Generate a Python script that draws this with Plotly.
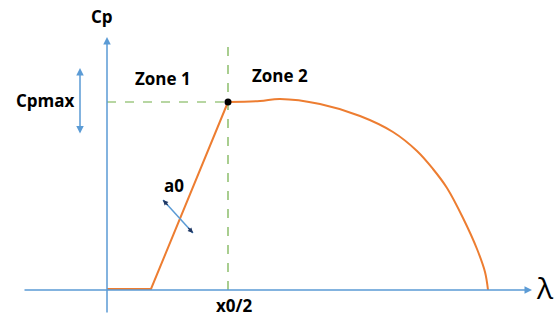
import plotly.graph_objects as go

# Power coefficient curve Cp(λ), arbitrary units
zone1_lambda = [0.0, 4.4, 12.1]
zone1_cp = [0.1, 0.1, 18.8]

zone2_lambda = [12.1, 15.3, 17.3, 21.3, 25.3, 28.6, 31.0, 32.6, 34.0, 35.6, 37.0, 37.8, 38.1]
zone2_cp = [18.8, 18.9, 19.1, 18.6, 17.4, 15.8, 13.9, 12.1, 10.2, 7.2, 4.1, 1.8, 0.0]

# Characteristic point (x0/2, Cpmax)
knee_lambda = 12.1
cp_max = 18.8

ORANGE = "#ed7d31"
BLUE = "#5b9bd5"
GREEN = "#70ad47"
NAVY = "#1f3864"
FONT = "Open Sans"

fig = go.Figure()

fig.add_trace(go.Scatter(x=zone1_lambda, y=zone1_cp, mode="lines",
                         line=dict(color=ORANGE, width=2), hoverinfo="skip"))
fig.add_trace(go.Scatter(x=zone2_lambda, y=zone2_cp, mode="lines",
                         line=dict(color=ORANGE, width=2, shape="spline", smoothing=1.0),
                         hoverinfo="skip"))

shapes = [
    # guide lines to the knee point
    dict(type="line", x0=knee_lambda, x1=knee_lambda, y0=0, y1=25.2,
         line=dict(color=GREEN, width=1.2, dash="dash"), layer="below"),
    dict(type="line", x0=0, x1=knee_lambda, y0=cp_max, y1=cp_max,
         line=dict(color=GREEN, width=1.2, dash="dash"), layer="below"),
    # slope indicator across the rising branch
    dict(type="line", x0=5.6, y0=9.0, x1=8.6, y1=5.7,
         line=dict(color=BLUE, width=1.5)),
]

annotations = []

def arrow(x, y, ax, ay, color=BLUE, width=1.5, head=2, size=1.0, side="end"):
    annotations.append(dict(x=x, y=y, ax=ax, ay=ay, xref="x", yref="y",
                            axref="x", ayref="y", text="", showarrow=True,
                            arrowhead=head, arrowsize=size, arrowwidth=width,
                            arrowcolor=color, arrowside=side, standoff=0,
                            startstandoff=0))

# coordinate axes
arrow(42.5, 0, -8.4, 0)
arrow(0, 25.3, 0, -2.4)
# Cpmax range marker
arrow(-2.7, 22.2, -2.7, 15.5, side="end+start")
# slope arrowheads
arrow(5.6, 9.0, 6.2, 8.35, color=NAVY, width=1.3, size=0.8)
arrow(8.6, 5.7, 8.0, 6.35, color=NAVY, width=1.3, size=0.8)

def label(x, y, text, size=17, weight="bold"):
    annotations.append(dict(x=x, y=y, xref="x", yref="y", text=text,
                            showarrow=False, xanchor="center", yanchor="middle",
                            font=dict(family=FONT, size=size, color="black",
                                      weight=weight)))

label(-0.5, 27.4, "Cp")
label(-6.2, 19.0, "Cpmax")
label(5.6, 21.2, "Zone 1")
label(17.3, 21.5, "Zone 2")
label(6.7, 10.5, "a0")
label(12.7, -1.5, "x0/2")
label(43.8, 0.3, "λ", size=30, weight="normal")

fig.add_trace(go.Scatter(x=[knee_lambda], y=[cp_max], mode="markers",
                         marker=dict(color="black", size=7), hoverinfo="skip"))

fig.update_layout(
    width=554, height=320,
    margin=dict(l=0, r=0, t=0, b=0),
    paper_bgcolor="white", plot_bgcolor="white",
    showlegend=False,
    xaxis=dict(range=[-10.7, 44.7], visible=False, fixedrange=True),
    yaxis=dict(range=[-3.0, 29.0], visible=False, fixedrange=True),
    shapes=shapes, annotations=annotations,
)

fig.write_html("out.html", config={"displayModeBar": False})
